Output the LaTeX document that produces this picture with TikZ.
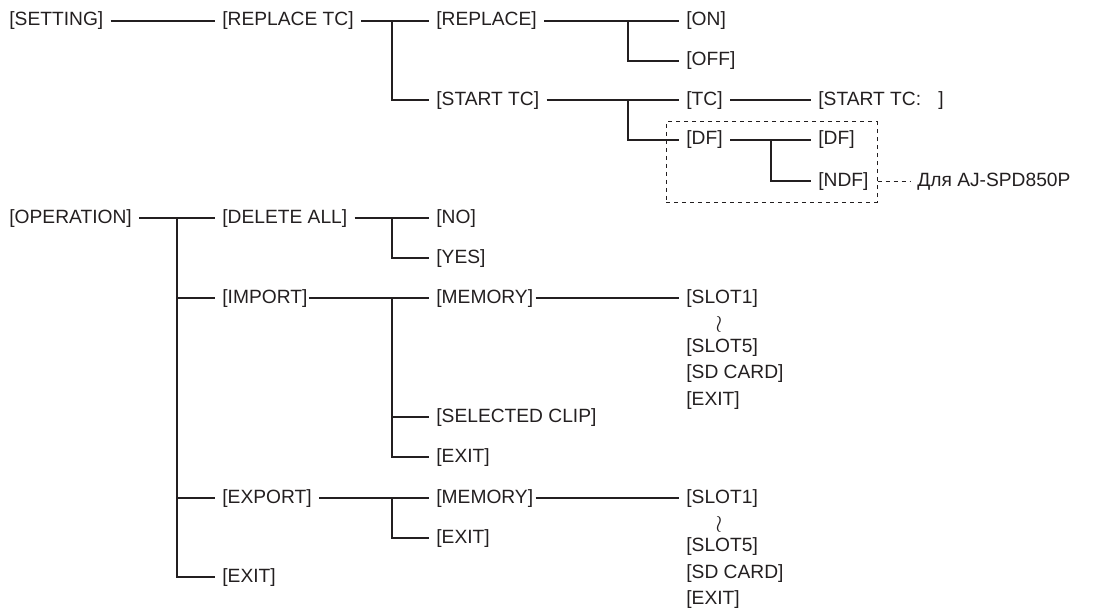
\documentclass[tikz,border=0pt]{standalone}
\usepackage{fontspec}
\setmainfont{Liberation Sans}
\usetikzlibrary{positioning}
\definecolor{menuink}{RGB}{35, 31, 32}

\begin{document}
\begin{tikzpicture}[x=0.5pt, y=-0.5pt,
        item/.style={anchor=west, inner xsep=3.5pt, inner ysep=0pt,
            text=menuink, font=\fontsize{9.6}{11}\selectfont,
            text height=7pt, text depth=2pt},
        wave/.style={inner sep=0pt, text=menuink, font=\fontsize{13}{13}\selectfont},
        link/.style={draw=menuink, line width=1pt},
        hint/.style={draw=menuink, line width=0.5pt, dash pattern=on 2pt off 2pt}]
    \useasboundingbox (0, 0) rectangle (1119, 610);
    \coordinate (colA) at (177, 0);
    \coordinate (colB) at (392, 0);
    \coordinate (colC) at (628, 0);
    \coordinate (colD) at (771, 0);

    % SETTING
    \node[item] (set) at (2, 21) {[SETTING]};
    \node[item] (rtc) at (215, 21) {[REPLACE TC]};
    \node[item] (rep) at (429, 21) {[REPLACE]};
    \node[item] (on) at (679, 21) {[ON]};
    \node[item] (off) at (679, 61) {[OFF]};
    \node[item] (stc) at (429, 100) {[START TC]};
    \node[item] (tc) at (679, 100) {[TC]};
    \node[item] (stcval) at (811, 100) {[START TC:\hspace{0.9em}]};
    \node[item] (df) at (679, 140) {[DF]};
    \node[item] (dfon) at (811, 140) {[DF]};
    \node[item] (ndf) at (811, 181) {[NDF]};
    \node[hint, inner sep=0pt, minimum width=105.5pt, minimum height=40pt]
        (dfbox) at (771.5, 162) {};
    \node[item] (note) at (910, 181) {Для AJ-SPD850P};

    \draw[link] (set.east) -- (rtc.west);
    \draw[link] (rtc.east) -- (rep.west);
    \draw[link] (rtc.east -| colB) |- (stc.west);
    \draw[link] (rep.east) -- (on.west);
    \draw[link] (rep.east -| colC) |- (off.west);
    \draw[link] (stc.east) -- (tc.west);
    \draw[link] (stc.east -| colC) |- (df.west);
    \draw[link] (tc.east) -- (stcval.west);
    \draw[link] (df.east) -- (dfon.west);
    \draw[link] (df.east -| colD) |- (ndf.west);
    \draw[hint] (ndf.east -| dfbox.east) -- (note.west);

    % OPERATION
    \node[item] (op) at (2, 218) {[OPERATION]};
    \node[item] (del) at (215, 218) {[DELETE ALL]};
    \node[item] (no) at (429, 218) {[NO]};
    \node[item] (yes) at (429, 258) {[YES]};
    \node[item] (imp) at (215, 298) {[IMPORT]};
    \node[item] (impmem) at (429, 298) {[MEMORY]};
    \node[item] (impslot1) at (679, 298) {[SLOT1]};
    \node[wave] (impwr) at (719, 324) {$\wr$};
    \node[item] (impslot5) at (679, 347) {[SLOT5]};
    \node[item] (impsd) at (679, 373) {[SD CARD]};
    \node[item] (impmemexit) at (679, 400) {[EXIT]};
    \node[item] (clip) at (429, 417) {[SELECTED CLIP]};
    \node[item] (impexit) at (429, 457) {[EXIT]};
    \node[item] (exp) at (215, 498) {[EXPORT]};
    \node[item] (expmem) at (429, 498) {[MEMORY]};
    \node[item] (expslot1) at (679, 498) {[SLOT1]};
    \node[wave] (expwr) at (719, 524) {$\wr$};
    \node[item] (expslot5) at (679, 546) {[SLOT5]};
    \node[item] (expsd) at (679, 573) {[SD CARD]};
    \node[item] (expmemexit) at (679, 599) {[EXIT]};
    \node[item] (expexit) at (429, 538) {[EXIT]};
    \node[item] (opexit) at (215, 577) {[EXIT]};

    \draw[link] (op.east) -- (del.west);
    \draw[link] (op.east -| colA) |- (imp.west);
    \draw[link] (op.east -| colA) |- (exp.west);
    \draw[link] (op.east -| colA) |- (opexit.west);
    \draw[link] (del.east) -- (no.west);
    \draw[link] (del.east -| colB) |- (yes.west);
    \draw[link, shorten <=-3pt] (imp.east) -- (impmem.west);
    \draw[link] (imp.east -| colB) |- (clip.west);
    \draw[link] (imp.east -| colB) |- (impexit.west);
    \draw[link, shorten <=-2.5pt] (impmem.east) -- (impslot1.west);
    \draw[link] (exp.east) -- (expmem.west);
    \draw[link] (exp.east -| colB) |- (expexit.west);
    \draw[link, shorten <=-2.5pt] (expmem.east) -- (expslot1.west);
\end{tikzpicture}
\end{document}
